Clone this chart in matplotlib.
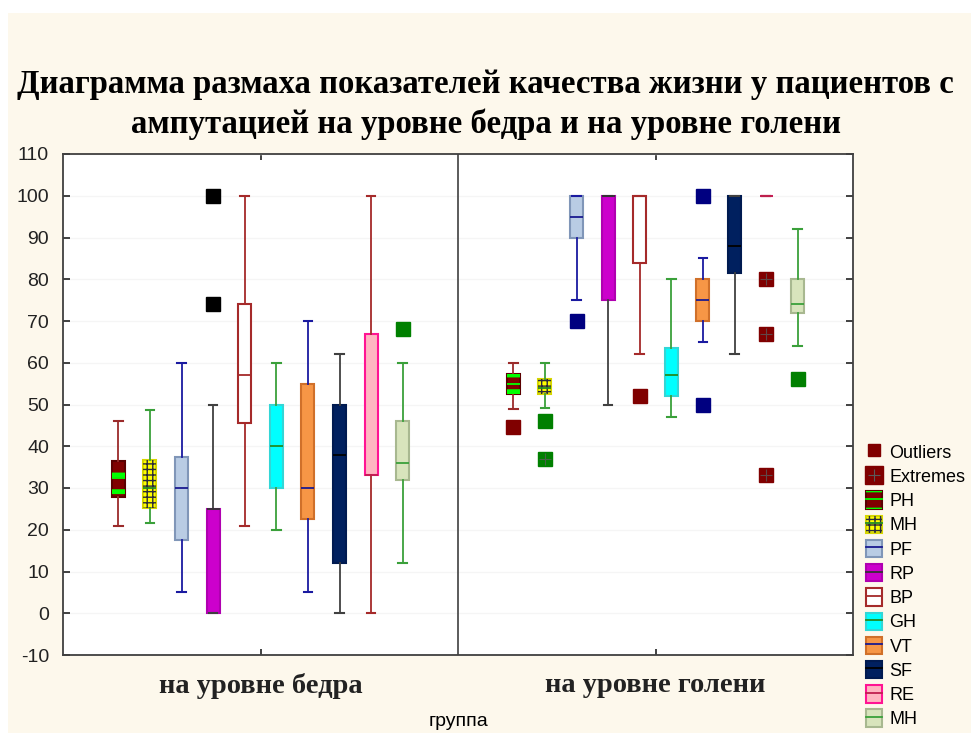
import matplotlib
matplotlib.use("Agg")
import matplotlib.pyplot as plt
from matplotlib.patches import PathPatch, Patch, Rectangle
from matplotlib.lines import Line2D
from matplotlib.legend_handler import HandlerTuple

plt.rcParams['axes.unicode_minus'] = False

# quality-of-life scales (SF-36), two amputation groups
groups = ['на уровне бедра', 'на уровне голени']
scales = ['PH', 'MH', 'PF', 'RP', 'BP', 'GH', 'VT', 'SF', 'RE', 'MH']

# thigh level
thigh_lo = [21, 21.7, 5, 0, 21, 20, 5, 0, 0, 12]
thigh_q1 = [27.8, 25.3, 17.5, 0, 45.6, 30, 22.6, 12, 33, 32]
thigh_med = [32.5, 30, 30, 25, 57, 40, 30, 38, 33, 36]
thigh_q3 = [36.5, 36.7, 37.5, 25, 74, 50, 55, 50, 67, 46]
thigh_hi = [46, 48.6, 60, 50, 100, 60, 70, 62, 100, 60]

# shin level
shin_lo = [49, 49.2, 75, 50, 62, 47, 65, 62, 100, 64]
shin_q1 = [52.5, 52.4, 90, 75, 84, 52, 70, 81.6, 100, 72]
shin_med = [55, 54, 95, 100, 100, 57, 75, 88, 100, 74]
shin_q3 = [57.4, 56, 100, 100, 100, 63.5, 80, 100, 100, 80]
shin_hi = [60, 60, 100, 100, 100, 80, 85, 100, 100, 92]

# outliers / extremes: (group index, scale index, values)
outliers = [(0, 3, [100, 74]), (0, 9, [68]),
            (1, 0, [44.5]), (1, 1, [46]), (1, 2, [70]), (1, 4, [52]),
            (1, 6, [100, 50]), (1, 9, [56])]
extremes = [(1, 1, [37]), (1, 8, [80, 67, 33])]

# face, edge, whisker, median, flier, hatch, hatch colour
styles = [
    ('#800000', '#5a0000', '#9b2b2b', '#00ff00', '#800000', '-', '#00ff00'),
    ('#ffff00', '#d6d600', '#3aa03a', '#228b22', '#008000', '+++', '#2a2a3a'),
    ('#b9cce4', '#8096b8', '#1a1aa0', '#1a1a90', '#000080', None, None),
    ('#cc00cc', '#b000b0', '#404040', '#333333', '#000000', None, None),
    ('#ffffff', '#a52a2a', '#a52a2a', '#a52a2a', '#800000', None, None),
    ('#00ffff', '#33d6d6', '#3aa03a', '#228b22', '#008000', None, None),
    ('#f79646', '#d0702a', '#1a1aa0', '#1a1a90', '#000080', None, None),
    ('#00205f', '#001a50', '#404040', '#000000', '#000000', None, None),
    ('#ffb6c1', '#ff1493', '#a52a2a', '#c02050', '#800000', None, None),
    ('#d8e4bc', '#a8b890', '#3aa03a', '#3aa03a', '#008000', None, None),
]

cream = '#fdf8ec'
serif = 'Liberation Serif'
sans = 'Liberation Sans'

step = 0.08
box_w = 0.033
cap_w = 0.022


def pos(g, i):
    return g + 0.5 + (i - 4.5) * step


def set_hatch(patch, hatch, lw):
    patch.set_hatch(hatch)
    if hasattr(patch, 'set_hatch_linewidth'):
        patch.set_hatch_linewidth(lw)


def hatch_lw(hatch):
    return 3.5 if hatch == '-' else 1.0


fig = plt.figure(figsize=(9.71, 7.33), dpi=100, facecolor='white')
fig.patches.append(Rectangle((8 / 971, 0), 1, 1 - 13 / 733, transform=fig.transFigure,
                             facecolor=cream, edgecolor='none', zorder=-10))
ax = fig.add_axes([63 / 971, 78 / 733, 790 / 971, 501 / 733])
ax.set_facecolor('white')

all_stats = [(thigh_lo, thigh_q1, thigh_med, thigh_q3, thigh_hi),
             (shin_lo, shin_q1, shin_med, shin_q3, shin_hi)]

for g, (lo, q1, med, q3, hi) in enumerate(all_stats):
    for i in range(len(scales)):
        face, edge, whis, medc, flc, hatch, hcol = styles[i]
        st = [dict(whislo=lo[i], q1=q1[i], med=med[i], q3=q3[i], whishi=hi[i], fliers=[])]
        art = ax.bxp(st, positions=[pos(g, i)], widths=box_w, capwidths=cap_w,
                     patch_artist=True, showfliers=False, manage_ticks=False,
                     boxprops=dict(facecolor=face, edgecolor=edge, linewidth=1.5),
                     whiskerprops=dict(color=whis, linewidth=1.3),
                     capprops=dict(color=whis, linewidth=1.5),
                     medianprops=dict(color=medc, linewidth=1.3), zorder=3)
        if hatch:
            box = art['boxes'][0]
            over = PathPatch(box.get_path(), facecolor='none', edgecolor=hcol,
                             linewidth=0, zorder=3.05)
            set_hatch(over, hatch, hatch_lw(hatch))
            ax.add_patch(over)

for g, i, vals in outliers:
    ax.plot([pos(g, i)] * len(vals), vals, 's', ls='none', color=styles[i][4],
            markersize=10, markeredgecolor=styles[i][4], zorder=4)

for g, i, vals in extremes:
    ax.plot([pos(g, i)] * len(vals), vals, 's', ls='none', color=styles[i][4],
            markersize=10, zorder=4)
    ax.plot([pos(g, i)] * len(vals), vals, '+', ls='none', color='#5a5a5a',
            markersize=8, markeredgewidth=0.8, alpha=0.8, zorder=5)

ax.axvline(1.0, color='#404040', linewidth=1.2, zorder=2)

ax.set_xlim(0, 2)
ax.set_ylim(-10, 110)
ax.set_yticks(range(-10, 111, 10))
ax.yaxis.grid(True, color='#f5f5f5', linewidth=1.0, zorder=0)
ax.set_axisbelow(True)
ax.tick_params(axis='y', direction='in', length=5, width=1.2, right=True,
               labelsize=14, pad=10, colors='#222222')
for lab in ax.get_yticklabels():
    lab.set_fontfamily(sans)
ax.set_xticks([0.5, 1.5])
ax.set_xticklabels(groups, fontfamily=serif, fontweight='bold', fontsize=20.5)
ax.tick_params(axis='x', direction='in', length=4, width=1.2, top=True, pad=13,
               colors='#222222')
ax.set_xlabel('группа', fontfamily=sans, fontsize=14, labelpad=10)
for sp in ax.spines.values():
    sp.set_color('#404040')
    sp.set_linewidth(1.3)

fig.text(0.5, 1 - 84 / 733, 'Диаграмма размаха показателей качества жизни у пациентов с',
         ha='center', va='center', fontfamily=serif, fontweight='bold', fontsize=23.6)
fig.text(0.5, 1 - 124 / 733, 'ампутацией на уровне бедра и на уровне голени',
         ha='center', va='center', fontfamily=serif, fontweight='bold', fontsize=23.6)

# legend
handles = [Line2D([], [], marker='s', ls='none', color='#800000', markersize=9),
           (Line2D([], [], marker='s', ls='none', color='#800000', markersize=13),
            Line2D([], [], marker='+', ls='none', color='#5a5a5a', markersize=9,
                   markeredgewidth=0.8))]
labels = ['Outliers', 'Extremes']
for i, name in enumerate(scales):
    face, edge, whis, medc, flc, hatch, hcol = styles[i]
    base = Patch(facecolor=face, edgecolor=edge, linewidth=1.5)
    med_line = Line2D([], [], color=medc, linewidth=1.3)
    if hatch:
        over = Patch(facecolor='none', edgecolor=hcol, linewidth=0)
        set_hatch(over, hatch, hatch_lw(hatch))
        handles.append((base, over, med_line))
    else:
        handles.append((base, med_line))
    labels.append(name)

fig.legend(handles, labels, loc='upper left', bbox_to_anchor=(857 / 971, 1 - 434 / 733),
           frameon=False, prop=dict(family=sans, size=13), handlelength=0.9,
           handleheight=1.1, handletextpad=0.4, labelspacing=0.3, borderpad=0,
           handler_map={tuple: HandlerTuple(ndivide=1)})

fig.savefig('out.png', dpi=100, facecolor=fig.get_facecolor())
